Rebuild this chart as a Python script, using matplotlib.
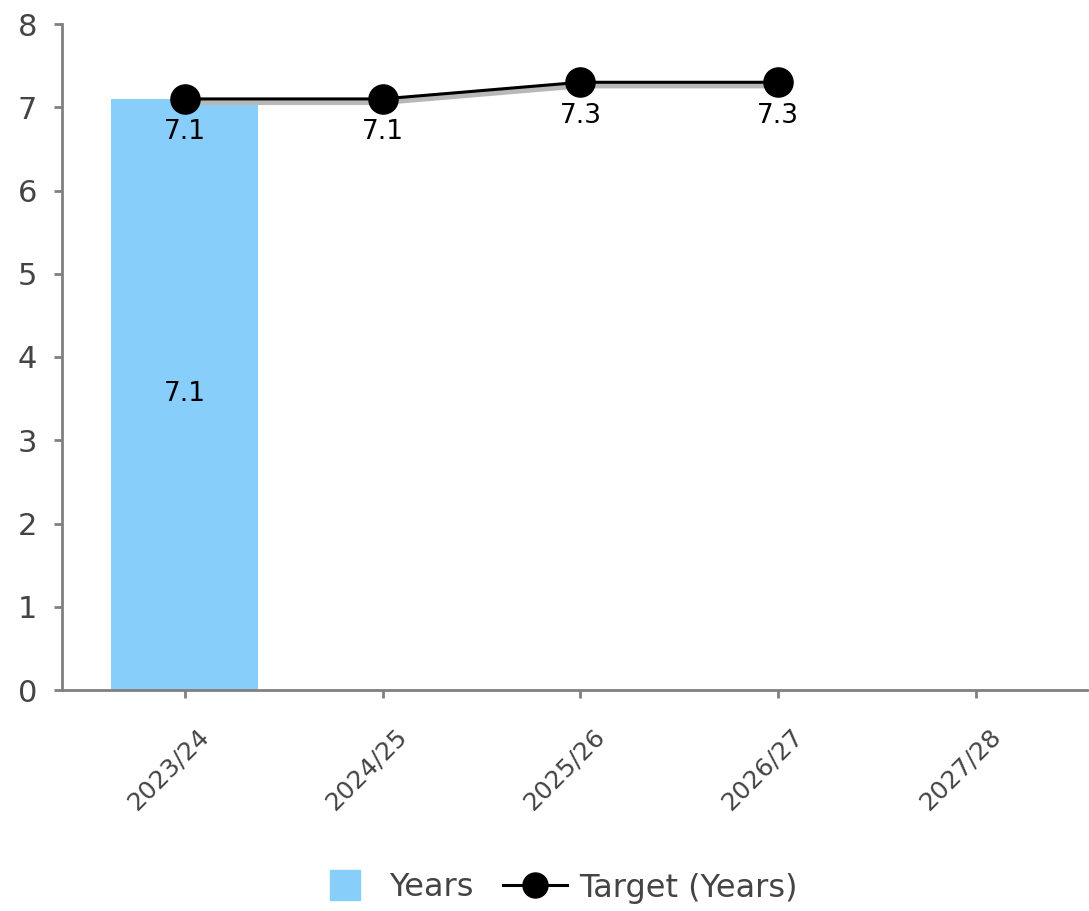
import matplotlib.pyplot as plt
import matplotlib.transforms as mtransforms
from matplotlib.lines import Line2D

# Years vs. target per academic year
seasons = ["2023/24", "2024/25", "2025/26", "2026/27", "2027/28"]
years_actual = [7.1]
target_years = [7.1, 7.1, 7.3, 7.3]

bar_color = "#87CEFA"
axis_gray = "#808080"
text_gray = "#444444"

fig = plt.figure(figsize=(10.89, 9.11), dpi=100)
ax = fig.add_axes([62 / 1089, 1 - 690 / 911, 1025 / 1089, 666 / 911])

x = list(range(len(seasons)))

# bars
ax.bar(x[:len(years_actual)], years_actual, width=0.74, color=bar_color, zorder=2)
for xi, v in zip(x, years_actual):
    ax.text(xi, v / 2, f"{v:.1f}", ha="center", va="center", fontsize=19, color="black", zorder=5)

# target line with a soft gray shadow below it
tx = x[:len(target_years)]
shadow = mtransforms.offset_copy(ax.transData, fig=fig, x=0, y=-3, units="dots")
ax.plot(tx, target_years, color="#b8b8b8", lw=4.5, transform=shadow, zorder=3)
ax.plot(tx, target_years, color="black", lw=2.2, marker="o", markersize=21, zorder=4)
for xi, v in zip(tx, target_years):
    ax.annotate(f"{v:.1f}", (xi, v), xytext=(0, -24), textcoords="offset points",
                ha="center", va="center", fontsize=19, color="black", zorder=5)

ax.set_xlim(-0.62, 4.56)
ax.set_ylim(0, 8)
ax.set_yticks(range(0, 9))
ax.set_xticks(x)
ax.set_xticklabels(seasons)

for side in ["top", "right"]:
    ax.spines[side].set_visible(False)
for side in ["left", "bottom"]:
    ax.spines[side].set_color(axis_gray)
    ax.spines[side].set_linewidth(2)

ax.tick_params(axis="y", length=6, width=2, color=axis_gray, labelsize=22,
               labelcolor=text_gray, pad=12)
ax.tick_params(axis="x", length=6, width=2, color=axis_gray, labelsize=18,
               labelcolor=text_gray, pad=6)

off = mtransforms.ScaledTranslation(12 / 100, -18 / 100, fig.dpi_scale_trans)
for lbl in ax.get_xticklabels():
    lbl.set_rotation(45)
    lbl.set_ha("right")
    lbl.set_va("top")
    lbl.set_rotation_mode("anchor")
    lbl.set_transform(lbl.get_transform() + off)

handles = [
    Line2D([], [], marker="s", linestyle="none", markersize=21, color=bar_color),
    Line2D([], [], marker="o", color="black", lw=2.2, markersize=18),
]
fig.legend(handles, ["Years", "Target (Years)"], loc="center",
           bbox_to_anchor=(0.51, 1 - 888 / 911), ncol=2, frameon=False,
           fontsize=23, labelcolor=text_gray, handlelength=2.0,
           handletextpad=0.4, columnspacing=0.9)

fig.savefig("out.png", dpi=100)
